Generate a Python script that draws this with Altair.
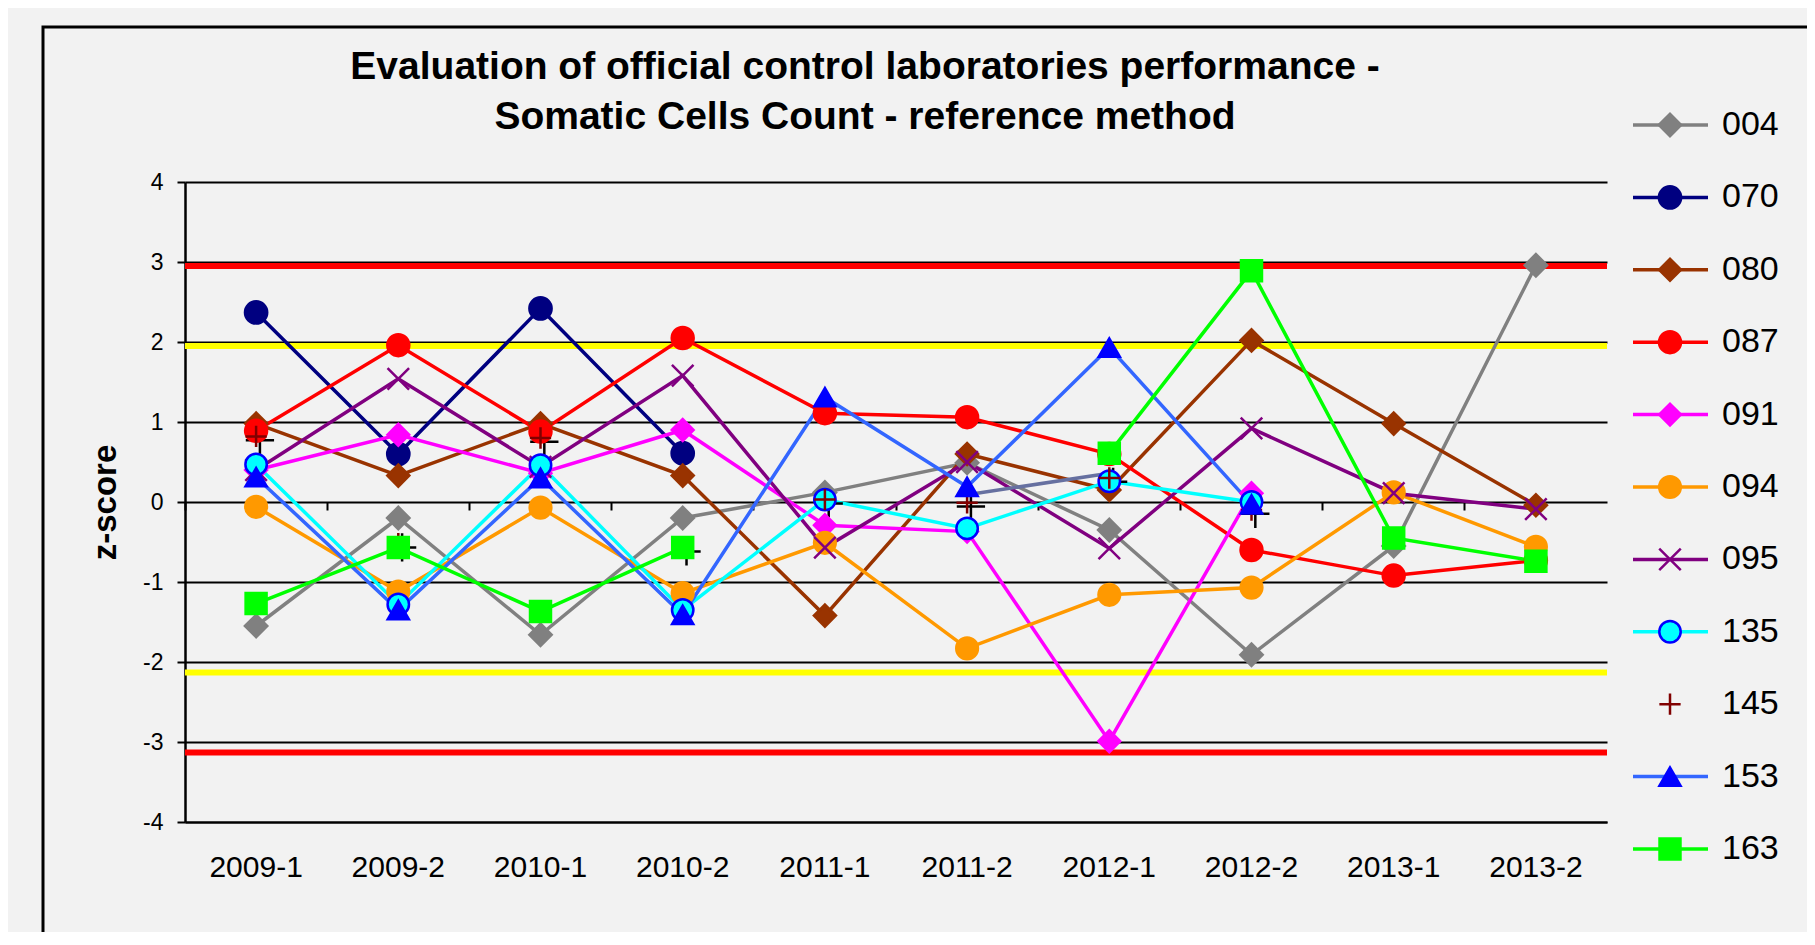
import altair as alt
import pandas as pd

periods = ["2009-1", "2009-2", "2010-1", "2010-2", "2011-1",
           "2011-2", "2012-1", "2012-2", "2013-1", "2013-2"]

series_ids = ["004", "070", "080", "087", "091", "094", "095", "135", "145", "153", "163"]

z004 = [-1.55, -0.20, -1.66, -0.20, 0.12, 0.49, -0.35, -1.91, -0.55, 2.96]
z070 = [2.37, 0.60, 2.42, 0.61, None, None, None, None, None, None]
z080 = [0.98, 0.33, 0.98, 0.33, -1.42, 0.60, 0.15, 2.02, 0.98, -0.04]
z087 = [0.89, 1.96, 0.88, 2.05, 1.11, 1.06, 0.60, -0.60, -0.92, -0.73]
z091 = [0.40, 0.84, 0.36, 0.90, -0.29, -0.37, -2.99, 0.11, None, None]
z094 = [-0.06, -1.12, -0.07, -1.14, -0.51, -1.83, -1.16, -1.07, 0.12, -0.56]
z095 = [0.40, 1.54, 0.44, 1.58, -0.57, 0.50, -0.58, 0.92, 0.11, -0.09]
z135 = [0.47, -1.28, 0.46, -1.35, 0.03, -0.33, 0.26, 0.00, None, None]
z145 = [0.82, -0.52, 0.80, -0.57, 0.03, -0.01, 0.30, -0.10, None, None]
z153 = [0.31, -1.35, 0.30, -1.41, 1.31, 0.19, 1.93, -0.03, None, None]
z163 = [-1.27, -0.57, -1.37, -0.57, None, None, 0.61, 2.89, -0.45, -0.74]
z_slate = [None, None, None, None, None, 0.09, 0.36, None, None, None]

red_limits = [2.95, -3.13]
yellow_limits = [1.95, -2.13]

line_colors = ["#808080", "#000080", "#993300", "#ff0000", "#ff00ff", "#ff9900",
               "#800080", "#00ffff", "#800000", "#3366ff", "#00ff00"]
marker_fill = ["#808080", "#000080", "#993300", "#ff0000", "#ff00ff", "#ff9900",
               "transparent", "#00ffff", "transparent", "#0000ff", "#00ff00"]
marker_stroke = ["#808080", "#000080", "#993300", "#ff0000", "#ff00ff", "#ff9900",
                 "#800080", "#0000ff", "#800000", "#0000ff", "#00ff00"]
X_PATH = "M-1,-1L1,1M-1,1L1,-1"
PLUS_PATH = "M-1,0L1,0M0,-1L0,1"
PLUS_SHADOW = "M-0.73,0.27L1.27,0.27M0.27,-0.73L0.27,1.27"
marker_shape = ["diamond", "circle", "diamond", "circle", "diamond", "circle",
                X_PATH, "circle", PLUS_PATH, "triangle-up", "square"]
marker_size = [500, 440, 500, 440, 500, 440, 800, 420, 800, 480, 420]

series_values = {"004": z004, "070": z070, "080": z080, "087": z087, "091": z091,
                 "094": z094, "095": z095, "135": z135, "145": z145, "153": z153,
                 "163": z163, "slate": z_slate}

rows = []
for sid, vals in series_values.items():
    seg = 0
    for p, v in zip(periods, vals):
        if v is None:
            seg += 1
            continue
        rows.append({"series": sid, "period": p, "z": v, "seg": f"{sid}-{seg}"})
df = pd.DataFrame(rows)

df_lines = df[df.series != "145"]
df_points = df[df.series != "slate"]
df_145 = df[df.series == "145"]

FONT = "Liberation Sans"

color_scale = alt.Scale(domain=series_ids + ["slate"], range=line_colors + ["#6670a0"])
fill_scale = alt.Scale(domain=series_ids, range=marker_fill)
stroke_scale = alt.Scale(domain=series_ids, range=marker_stroke)
shape_scale = alt.Scale(domain=series_ids, range=marker_shape)
size_scale = alt.Scale(domain=series_ids, range=marker_size)

x_scale = alt.Scale(type="band", paddingInner=0, paddingOuter=0, domain=periods)
y_scale = alt.Scale(domain=[-4, 4], nice=False, zero=False)

main_x_axis = alt.Axis(orient="bottom", title=None, labelAngle=0, labelFontSize=30,
                       labelColor="black", labelFont=FONT, labelPadding=30,
                       ticks=False, tickSize=0, domain=True, domainColor="black",
                       domainWidth=2, grid=False)
tick_x_axis = alt.Axis(orient="bottom", title=None, labels=False, ticks=True,
                       tickSize=8, tickColor="black", tickWidth=2, bandPosition=0,
                       domain=False, grid=False, offset=-320)
y_axis = alt.Axis(values=list(range(-4, 5)), labelExpr="'' + datum.value",
                  title="z-score", titleFontSize=33,
                  titleFontWeight="bold", titleColor="black", titleFont=FONT,
                  titlePadding=20, labelFontSize=23, labelColor="black",
                  labelFont=FONT, labelPadding=14, tickSize=8, tickColor="black",
                  tickWidth=2, domainColor="black", domainWidth=2.5, grid=True,
                  gridColor="black", gridWidth=2, gridOpacity=1)

y_enc = alt.Y("z:Q", scale=y_scale, axis=y_axis)

border = alt.Chart(pd.DataFrame({"a": [0]})).mark_rect(
    fillOpacity=0, stroke="black", strokeWidth=3
).encode(x=alt.value(-142), x2=alt.value(1660), y=alt.value(-155), y2=alt.value(764))

ref_red = alt.Chart(pd.DataFrame({"z": red_limits})).mark_rule(
    color="#ff0000", strokeWidth=6).encode(y=y_enc)
ref_yellow = alt.Chart(pd.DataFrame({"z": yellow_limits})).mark_rule(
    color="#ffff00", strokeWidth=6).encode(y=y_enc)

lines = alt.Chart(df_lines).mark_line(strokeWidth=3.5).encode(
    x=alt.X("period:N", sort=periods, scale=x_scale, axis=main_x_axis),
    y=y_enc,
    color=alt.Color("series:N", scale=color_scale, legend=None),
    detail="seg:N",
)

shadow = alt.Chart(df_145).mark_point(
    shape=PLUS_SHADOW, stroke="black", strokeWidth=2.5, size=800, opacity=1
).encode(
    x=alt.X("period:N", sort=periods, scale=x_scale, axis=None),
    y=y_enc,
)

points = alt.Chart(df_points).mark_point(strokeWidth=2.5, opacity=1).encode(
    x=alt.X("period:N", sort=periods, scale=x_scale, axis=tick_x_axis),
    y=y_enc,
    shape=alt.Shape("series:N", scale=shape_scale, legend=None),
    fill=alt.Fill("series:N", scale=fill_scale, legend=None),
    stroke=alt.Stroke("series:N", scale=stroke_scale, legend=None),
    size=alt.Size("series:N", scale=size_scale, legend=None),
)

legend_df = pd.DataFrame({"series": series_ids})
legend_y = alt.Y("series:N", scale=alt.Scale(type="point", domain=series_ids,
                                             range=[-57, 667], padding=0), axis=None)

leg_lines = alt.Chart(legend_df[legend_df.series != "145"]).mark_rule(strokeWidth=3.5).encode(
    x=alt.value(1448), x2=alt.value(1523), y=legend_y,
    color=alt.Color("series:N", scale=color_scale, legend=None),
)
leg_pts = alt.Chart(legend_df).mark_point(strokeWidth=2.5, opacity=1).encode(
    x=alt.value(1485), y=legend_y,
    shape=alt.Shape("series:N", scale=shape_scale, legend=None),
    fill=alt.Fill("series:N", scale=fill_scale, legend=None),
    stroke=alt.Stroke("series:N", scale=stroke_scale, legend=None),
    size=alt.Size("series:N", scale=size_scale, legend=None),
)
leg_text = alt.Chart(legend_df).mark_text(
    align="left", baseline="middle", fontSize=34, color="black", font=FONT
).encode(x=alt.value(1537), y=legend_y, text="series:N")

plot = alt.layer(border, ref_red, ref_yellow, lines, shadow, points).resolve_axis(x="independent")
legend = alt.layer(leg_lines, leg_pts, leg_text)

chart = alt.layer(plot, legend).resolve_scale(y="independent").properties(
    width=1422,
    height=640,
    title=alt.Title(
        ["Evaluation of official control laboratories performance -",
         "Somatic Cells Count - reference method"],
        fontSize=39, fontWeight="bold", color="black", font=FONT,
        anchor="middle", dx=-31, dy=115, lineHeight=50,
    ),
    padding={"left": 177, "top": 174, "right": 200, "bottom": 110},
    autosize=alt.AutoSizeParams(type="none"),
    background="#f2f2f2",
).configure(font=FONT).configure_view(stroke=None)

chart.save("out.html", embed_options={"renderer": "svg", "actions": False})
